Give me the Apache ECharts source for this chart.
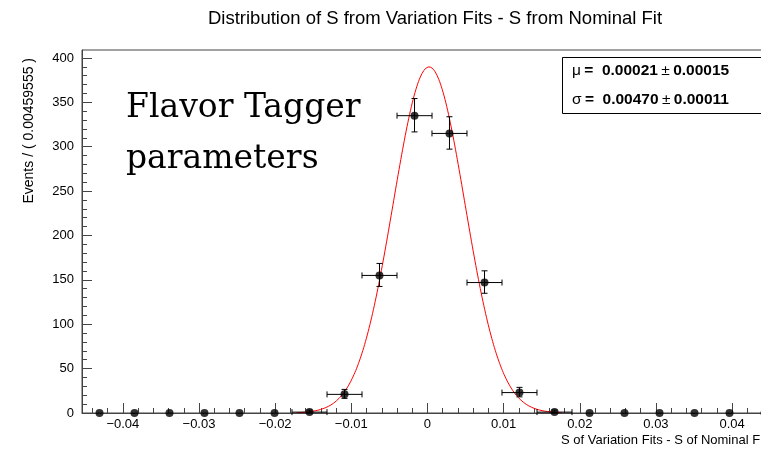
<!DOCTYPE html>
<html><head><meta charset="utf-8">
<script src="https://cdn.jsdelivr.net/npm/echarts@6/dist/echarts.min.js"></script>
<style>html,body{margin:0;padding:0;background:#fff;overflow:hidden;width:761px;height:449px}#c{width:800px;height:449px}</style>
</head><body><div id="c"></div>
<script>
// ---- data ----
const binWidth = 0.00459555;
const xMin = -0.04536;
const xMax = 0.04655;
const yMax = 409;
const binCenters = [-0.04306,-0.03847,-0.03387,-0.02928,-0.02468,-0.02008,-0.01549,-0.01089,-0.00630,-0.00170,0.00289,0.00749,0.01208,0.01668,0.02128,0.02587,0.03047,0.03506,0.03966,0.04425];
const counts    = [0,0,0,0,0,0,1,21,155,335,315,147,23,1,0,0,0,0,0,0];
const errLow    = [0,0,0,0,0,0,0.8,4.5,12.4,18.3,17.7,12.1,4.8,0.8,0,0,0,0,0,0];
const errHigh   = [0,0,0,0,0,0,2.3,5.6,13.5,19.3,18.8,13.2,5.9,2.3,0,0,0,0,0,0];
const fitMu = 0.00021, fitMuErr = 0.00015;
const fitSigma = 0.00470, fitSigmaErr = 0.00011;
const fitNorm = 1000;
const xMajorTicks = [-0.04,-0.03,-0.02,-0.01,0,0.01,0.02,0.03,0.04];
const yMajorTicks = [0,50,100,150,200,250,300,350,400];
const titleText = 'Distribution of S from Variation Fits - S from Nominal Fit';
const xTitle = 'S of Variation Fits - S of Nominal Fit';
const yTitle = 'Events / ( ' + binWidth + ' )';
const overlayLines = ['Flavor Tagger', 'parameters'];

// ---- derived ----
const xMinorTicks = [];
for (let i = -22; i <= 23; i++) { if (i % 5 !== 0) xMinorTicks.push(Math.round(i * 2) / 1000); }
const yMinorTicks = [];
for (let v = 10; v <= 400; v += 10) { if (v % 50 !== 0) yMinorTicks.push(v); }

const points = binCenters.map((x, i) => [x, counts[i]]);
const errData = [];
binCenters.forEach((x, i) => { if (counts[i] > 0) errData.push([x, counts[i], errLow[i], errHigh[i]]); });

const amp = fitNorm * binWidth / (fitSigma * Math.sqrt(2 * Math.PI));
const curve = [];
const cLo = fitMu - 3.7 * fitSigma, cHi = fitMu + 3.7 * fitSigma;
for (let k = 0; k <= 300; k++) {
  const x = cLo + (cHi - cLo) * k / 300;
  curve.push([x, amp * Math.exp(-0.5 * Math.pow((x - fitMu) / fitSigma, 2))]);
}

const F = 'Liberation Sans, Arial, Helvetica, sans-serif';
const axisCol = '#444';
const fmtX = v => { if (Math.abs(v) < 1e-9) return '0'; return (v < 0 ? '\u2212' : '') + Math.abs(v).toFixed(2); };

const chart = echarts.init(document.getElementById('c'), null, {renderer: 'canvas'});
chart.setOption({
  animation: false,
  backgroundColor: '#fff',
  grid: {left: 82, top: 50, width: 700, height: 363, show: true, borderColor: axisCol, borderWidth: 1, containLabel: false, outerBoundsMode: 'none'},
  xAxis: [
    {type: 'value', min: xMin, max: xMax, position: 'bottom',
     axisLine: {show: true, onZero: false, lineStyle: {color: axisCol, width: 1}},
     axisTick: {show: true, inside: true, length: 10, lineStyle: {color: axisCol}, customValues: xMajorTicks},
     axisLabel: {show: true, customValues: xMajorTicks, formatter: fmtX, fontFamily: F, fontSize: 13, color: '#000', margin: 5},
     splitLine: {show: false}},
    {type: 'value', min: xMin, max: xMax, position: 'bottom',
     axisLine: {show: false, onZero: false},
     axisTick: {show: true, inside: true, length: 5, lineStyle: {color: axisCol}, customValues: xMinorTicks},
     axisLabel: {show: false}, splitLine: {show: false}}
  ],
  yAxis: [
    {type: 'value', min: 0, max: yMax, position: 'left',
     axisLine: {show: true, onZero: false, lineStyle: {color: axisCol, width: 1}},
     axisTick: {show: true, inside: true, length: 10, lineStyle: {color: axisCol}, customValues: yMajorTicks},
     axisLabel: {show: true, customValues: yMajorTicks, fontFamily: F, fontSize: 13, color: '#000', margin: 8},
     splitLine: {show: false}},
    {type: 'value', min: 0, max: yMax, position: 'left',
     axisLine: {show: false, onZero: false},
     axisTick: {show: true, inside: true, length: 5, lineStyle: {color: axisCol}, customValues: yMinorTicks},
     axisLabel: {show: false}, splitLine: {show: false}}
  ],
  series: [
    {type: 'line', data: curve, showSymbol: false, symbol: 'none', lineStyle: {color: '#ff0000', width: 1}, z: 3, clip: true},
    {type: 'custom', data: errData, z: 4, clip: false,
     renderItem: function (params, api) {
       const x = api.value(0), y = api.value(1), lo = api.value(2), hi = api.value(3);
       const c = api.coord([x, y]);
       const l = api.coord([x - binWidth / 2, y]);
       const r = api.coord([x + binWidth / 2, y]);
       const t = api.coord([x, y + hi]);
       const b = api.coord([x, y - lo]);
       const cap = 3;
       const st = {stroke: '#000', lineWidth: 1};
       const ln = (x1, y1, x2, y2) => ({type: 'line', shape: {x1, y1, x2, y2}, style: st});
       return {type: 'group', children: [
         ln(l[0], c[1], r[0], c[1]),
         ln(l[0], c[1] - cap, l[0], c[1] + cap),
         ln(r[0], c[1] - cap, r[0], c[1] + cap),
         ln(c[0], t[1], c[0], b[1]),
         ln(c[0] - cap, t[1], c[0] + cap, t[1]),
         ln(c[0] - cap, b[1], c[0] + cap, b[1])
       ]};
     }},
    {type: 'scatter', data: points, symbol: 'circle', symbolSize: 8, itemStyle: {color: '#000'}, z: 5, clip: false}
  ],
  graphic: [
    {type: 'text', x: 435, y: 19, style: {text: titleText, font: '18.5px ' + F, fill: '#000', align: 'center', verticalAlign: 'middle'}},
    {type: 'text', x: 29, y: 58, rotation: Math.PI / 2, style: {text: yTitle, font: '14px ' + F, fill: '#000', align: 'right', verticalAlign: 'middle'}},
    {type: 'text', x: 561, y: 440, style: {text: xTitle, font: '13px ' + F, fill: '#000', align: 'left', verticalAlign: 'middle'}},
    {type: 'text', x: 126, y: 108, style: {text: overlayLines[0], font: '33px "DejaVu Serif", serif', fill: '#000', align: 'left', verticalAlign: 'middle'}},
    {type: 'text', x: 126, y: 159, style: {text: overlayLines[1], font: '33px "DejaVu Serif", serif', fill: '#000', align: 'left', verticalAlign: 'middle'}},
    {type: 'rect', shape: {x: 562.5, y: 57.5, width: 230, height: 56}, style: {fill: '#fff', stroke: '#000', lineWidth: 1}, z: 10},
    {type: 'text', x: 572, y: 71, z: 11, style: {rich: {n: {font: 'bold 15.5px ' + F, fill: '#000'}, p: {font: '15.5px ' + F, fill: '#000'}},
      text: '{p|\u03bc} {n|=  ' + fitMu.toFixed(5) + '} {p|\u00b1} {n|' + fitMuErr.toFixed(5) + '}', verticalAlign: 'middle'}},
    {type: 'text', x: 572, y: 100, z: 11, style: {rich: {n: {font: 'bold 15.5px ' + F, fill: '#000'}, p: {font: '15.5px ' + F, fill: '#000'}},
      text: '{p|\u03c3} {n|=  ' + fitSigma.toFixed(5) + '} {p|\u00b1} {n|' + fitSigmaErr.toFixed(5) + '}', verticalAlign: 'middle'}}
  ]
});
</script></body></html>
